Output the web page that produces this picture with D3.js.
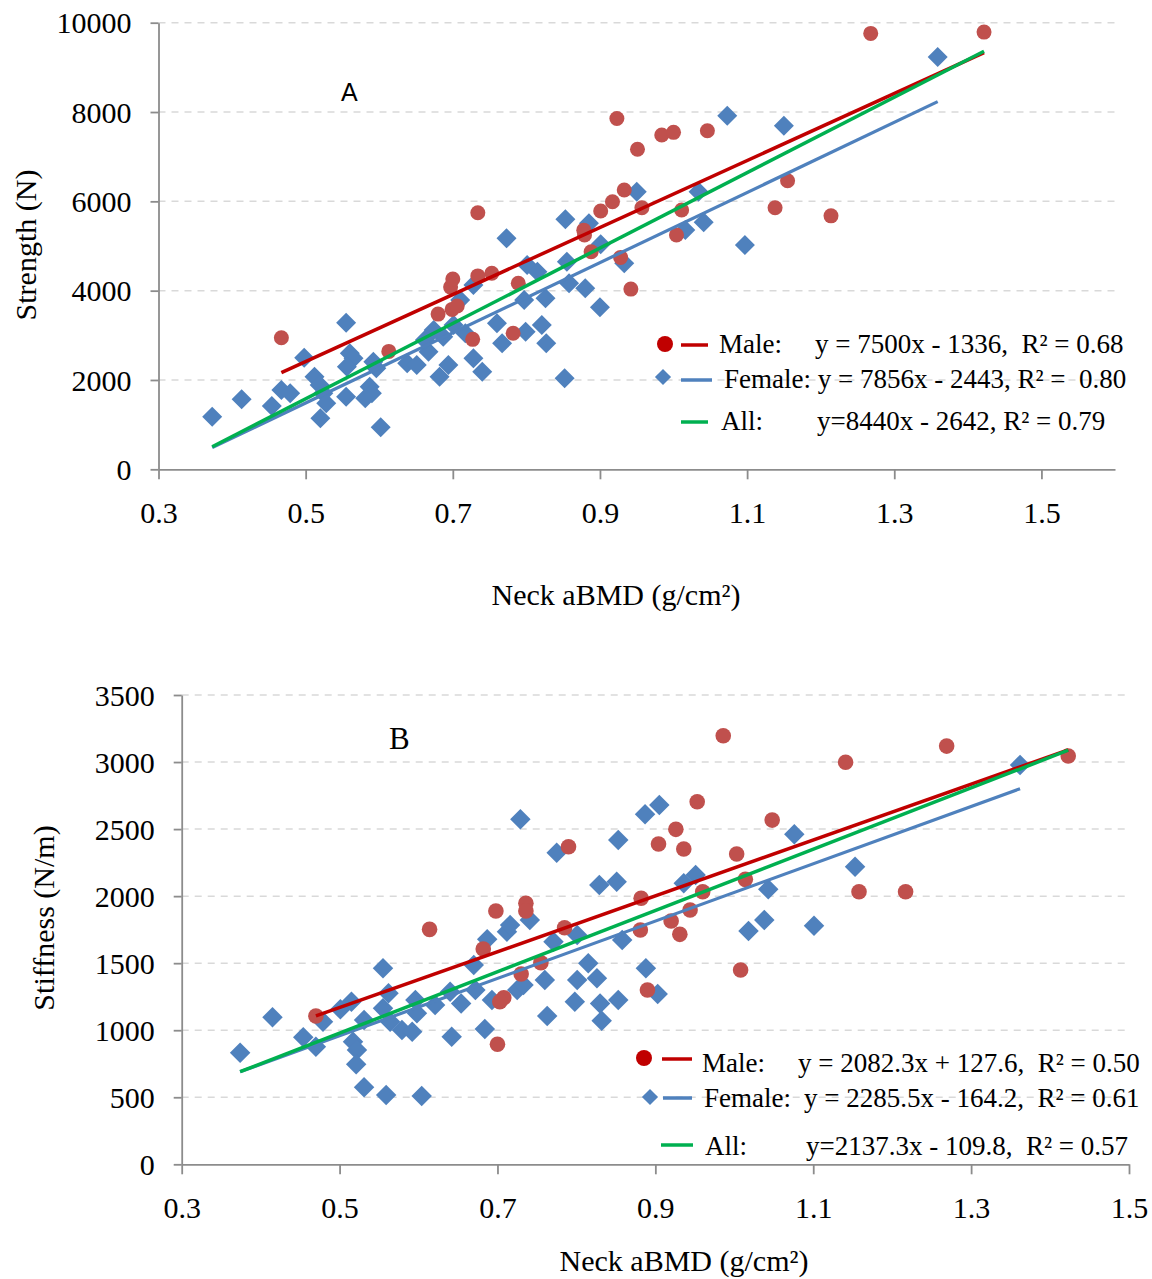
<!DOCTYPE html>
<html>
<head>
<meta charset="utf-8">
<script src="https://cdn.jsdelivr.net/npm/d3@7"></script>
<style>
  html, body { margin: 0; padding: 0; background: #ffffff; }
  svg text { white-space: pre; }
</style>
</head>
<body>
<svg id="chart" width="1152" height="1279"></svg>
<script>
// ---------------- DATA ----------------
// Panel A: Strength (N) vs Neck aBMD
const xTicksA = [0.3, 0.5, 0.7, 0.9, 1.1, 1.3, 1.5];
const yTicksA = [0, 2000, 4000, 6000, 8000, 10000];
const maleStrength = [
  [0.467,2946],[0.613,2640],[0.680,3475],[0.697,4080],[0.700,4260],[0.699,3580],[0.706,3655],
  [0.734,5745],[0.734,4330],[0.753,4390],[0.727,2910],[0.789,4165],[0.782,3045],[0.878,5355],
  [0.879,5245],[0.888,4870],[0.923,7855],[0.951,7165],[0.984,7485],[1.000,7545],[1.046,7580],
  [0.933,6255],[0.917,5990],[0.901,5785],[0.957,5855],[0.928,4745],[0.942,4035],[1.011,5805],
  [1.004,5245],[1.155,6460],[1.138,5855],[1.214,5675],[1.268,9760],[1.422,9790]
];
const femaleStrength = [
  [0.373,1178],[0.413,1567],[0.454,1417],[0.467,1775],[0.479,1701],[0.498,2498],[0.512,2073],
  [0.519,1887],[0.524,1701],[0.528,1477],[0.520,1141],[0.555,3282],[0.560,2597],[0.565,2485],
  [0.556,2297],[0.555,1625],[0.587,1849],[0.590,1701],[0.581,1589],[0.592,2409],[0.596,2261],
  [0.602,940],[0.638,2373],[0.651,2335],[0.667,2633],[0.662,2895],[0.674,3118],[0.682,2073],
  [0.694,2335],[0.687,2969],[0.701,3230],[0.710,3790],[0.728,4126],[0.717,3044],[0.728,2485],
  [0.740,2185],[0.760,3268],[0.767,2820],[0.773,5171],[0.797,3790],[0.801,4573],[0.815,4424],
  [0.826,3828],[0.821,3230],[0.827,2820],[0.852,2037],[0.853,5597],[0.855,4648],[0.858,4164],
  [0.880,4052],[0.799,3080],[0.885,5507],[0.901,5037],[0.900,3627],[0.933,4612],[0.950,6214],
  [1.034,6214],[1.016,5357],[1.041,5529],[1.073,7916],[1.150,7692],[1.097,5021],[1.359,9230]
];
// drawn regression lines: [slope, intercept, xStart, xEnd]
const fitMaleA   = [7500, -1336, 0.467, 1.422];
const fitFemaleA = [7856, -2443, 0.373, 1.359];
const fitAllA    = [8440, -2642, 0.373, 1.422];
const legendLabelsA = ["Male:", "Female: y = 7856x - 2443, R\u00B2 =  0.80", "All:"];
const legendEqA     = ["y = 7500x - 1336,  R\u00B2 = 0.68", "", "y=8440x - 2642, R\u00B2 = 0.79"];

// Panel B: Stiffness (N/m) vs Neck aBMD
const xTicksB = [0.3, 0.5, 0.7, 0.9, 1.1, 1.3, 1.5];
const yTicksB = [0, 500, 1000, 1500, 2000, 2500, 3000, 3500];
const maleStiffness = [
  [0.470,1106],[0.614,1752],[0.698,1889],[0.736,1946],[0.736,1889],[0.790,2368],[0.682,1605],
  [0.785,1764],[0.755,1503],[0.730,1419],[0.708,1242],[0.703,1213],[0.700,895],[0.986,3196],
  [1.269,3119],[1.141,2998],[0.953,2704],[1.048,2567],[0.926,2498],[0.904,2389],[0.936,2351],
  [1.003,2314],[1.014,2125],[0.882,1984],[0.960,2033],[1.158,2033],[1.217,2033],[0.944,1896],
  [0.920,1814],[0.881,1747],[0.931,1715],[1.008,1449],[0.890,1300],[1.423,3045]
];
const femaleStiffness = [
  [0.374,832],[0.415,1096],[0.454,947],[0.470,877],[0.479,1063],[0.501,1156],[0.515,1213],
  [0.517,914],[0.522,852],[0.521,746],[0.531,574],[0.559,517],[0.604,509],[0.531,1076],
  [0.555,1462],[0.562,1275],[0.555,1163],[0.564,1063],[0.579,1001],[0.592,989],[0.596,1225],
  [0.598,1126],[0.621,1188],[0.640,1287],[0.654,1200],[0.642,952],[0.670,1486],[0.672,1300],
  [0.687,1678],[0.684,1009],[0.693,1225],[0.712,1735],[0.716,1784],[0.729,2573],[0.741,1822],
  [0.775,2324],[0.760,1374],[0.763,1106],[0.771,1660],[0.725,1300],[0.733,1337],[0.801,1710],
  [0.815,1499],[0.826,1387],[0.801,1374],[0.798,1213],[0.830,1200],[0.832,1071],[0.829,2083],
  [0.851,2107],[0.853,2418],[0.853,1225],[0.887,2610],[0.905,2680],[0.936,2096],[0.951,2157],
  [1.076,2461],[1.043,2051],[1.153,2219],[1.018,1740],[1.038,1822],[1.101,1779],[0.858,1673],
  [0.888,1462],[0.903,1270],[1.362,2978]
];
// lines as drawn in the figure (blue and green appear with each other's slopes)
const fitMaleB   = [2082.3, 127.6, 0.470, 1.423];
const fitFemaleB = [2137.3, -109.8, 0.374, 1.362];
const fitAllB    = [2285.5, -164.2, 0.374, 1.423];
const legendLabelsB = ["Male:", "Female:", "All:"];
const legendEqB     = ["y = 2082.3x + 127.6,  R\u00B2 = 0.50", "y = 2285.5x - 164.2,  R\u00B2 = 0.61", "y=2137.3x - 109.8,  R\u00B2 = 0.57"];

// ---------------- STYLE ----------------
const SERIF = "'Liberation Serif', 'Times New Roman', serif";
const SANS = "'Liberation Sans', Arial, sans-serif";
const C_MALE_PT = "#C0504D", C_FEMALE_PT = "#4F81BD";
const C_MALE_LN = "#C00000", C_FEMALE_LN = "#4F81BD", C_ALL_LN = "#00B050";
const AXIS_C = "#8c8c8c", GRID_C = "#d9d9d9";

const svg = d3.select("#chart");

function drawPanel(p) {
  const x = d3.scaleLinear().domain(p.xDomain).range([p.left, p.right]);
  const y = d3.scaleLinear().domain(p.yDomain).range([p.bottom, p.top]);
  const g = svg.append("g");

  // grid
  g.append("g").selectAll("line").data(p.yTicks.filter(v => v > 0)).join("line")
    .attr("x1", p.left).attr("x2", p.right)
    .attr("y1", d => y(d)).attr("y2", d => y(d))
    .attr("stroke", GRID_C).attr("stroke-width", 1.5).attr("stroke-dasharray", "7,6");

  // y axis
  const ya = g.append("g").attr("transform", `translate(${p.left},0)`)
    .call(d3.axisLeft(y).tickValues(p.yTicks).tickSize(8).tickSizeOuter(0).tickPadding(19).tickFormat(d3.format("d")));
  ya.select(".domain").attr("stroke", AXIS_C).attr("stroke-width", 1.8);
  ya.selectAll(".tick line").attr("stroke", AXIS_C).attr("stroke-width", 1.8);
  ya.selectAll(".tick text").attr("font-family", SERIF).attr("font-size", p.tickFont).attr("fill", "#000").attr("dy", "0.34em");

  // x axis
  const xa = g.append("g").attr("transform", `translate(0,${p.bottom})`)
    .call(d3.axisBottom(x).tickValues(p.xTicks).tickSize(10).tickSizeOuter(0).tickPadding(22).tickFormat(d3.format(".1f")));
  xa.select(".domain").attr("stroke", AXIS_C).attr("stroke-width", 1.8);
  xa.selectAll(".tick line").attr("stroke", AXIS_C).attr("stroke-width", 1.8);
  xa.selectAll(".tick text").attr("font-family", SERIF).attr("font-size", p.tickFont).attr("fill", "#000");

  // points: female diamonds
  const diamond = d3.symbol().type(d3.symbolSquare).size(p.diamondSize);
  g.append("g").selectAll("path").data(p.females).join("path")
    .attr("d", diamond)
    .attr("transform", d => `translate(${x(d[0])},${y(d[1])}) rotate(45)`)
    .attr("fill", C_FEMALE_PT);
  // male circles
  g.append("g").selectAll("circle").data(p.males).join("circle")
    .attr("cx", d => x(d[0])).attr("cy", d => y(d[1])).attr("r", p.circleR)
    .attr("fill", C_MALE_PT);

  // trend lines
  const fits = [[p.fitMale, C_MALE_LN, 3.5], [p.fitFemale, C_FEMALE_LN, 3.2], [p.fitAll, C_ALL_LN, 3.5]];
  fits.forEach(([f, c, w]) => {
    g.append("line")
      .attr("x1", x(f[2])).attr("y1", y(f[0] * f[2] + f[1]))
      .attr("x2", x(f[3])).attr("y2", y(f[0] * f[3] + f[1]))
      .attr("stroke", c).attr("stroke-width", w);
  });

  // axis titles
  g.append("text").attr("x", p.xTitle[0]).attr("y", p.xTitle[1]).attr("text-anchor", "middle")
    .attr("font-family", SERIF).attr("font-size", p.titleFont).text("Neck aBMD (g/cm\u00B2)");
  g.append("text").attr("transform", `translate(${p.yTitle[0]},${p.yTitle[1]}) rotate(-90)`)
    .attr("text-anchor", "middle").attr("font-family", SERIF).attr("font-size", p.titleFont).text(p.yTitleText);

  // panel letter
  g.append("text").attr("x", p.letter[0]).attr("y", p.letter[1])
    .attr("font-family", p.letterFamily).attr("font-size", p.letterFont).text(p.letterText);

  // legend
  const L = p.legend;
  g.append("circle").attr("cx", L.marker[0][0]).attr("cy", L.marker[0][1]).attr("r", 8).attr("fill", C_MALE_LN);
  g.append("path").attr("d", d3.symbol().type(d3.symbolSquare).size(130))
    .attr("transform", `translate(${L.marker[1][0]},${L.marker[1][1]}) rotate(45)`).attr("fill", C_FEMALE_PT);
  const lc = [C_MALE_LN, C_FEMALE_LN, C_ALL_LN];
  L.lines.forEach((ln, i) => {
    g.append("line").attr("x1", ln[0]).attr("x2", ln[1]).attr("y1", ln[2]).attr("y2", ln[2])
      .attr("stroke", lc[i]).attr("stroke-width", 3.5);
  });
  p.legendLabels.forEach((t, i) => {
    g.append("text").attr("x", L.labelX[i]).attr("y", L.baseY[i])
      .attr("font-family", SERIF).attr("font-size", 27).text(t);
    if (p.legendEq[i]) {
      g.append("text").attr("x", L.eqX[i]).attr("y", L.baseY[i])
        .attr("font-family", SERIF).attr("font-size", 27).text(p.legendEq[i]);
    }
  });
}

drawPanel({
  xDomain: [0.3, 1.6], yDomain: [0, 10000],
  left: 158.5, right: 1115, top: 22.7, bottom: 469.3,
  xTicks: xTicksA, yTicks: yTicksA,
  males: maleStrength, females: femaleStrength,
  fitMale: fitMaleA, fitFemale: fitFemaleA, fitAll: fitAllA,
  tickFont: 30, titleFont: 30, circleR: 7.5, diamondSize: 200,
  xTitle: [616, 605], yTitle: [36, 245], yTitleText: "Strength (N)",
  letter: [341, 101], letterFamily: SANS, letterFont: 25, letterText: "A",
  legendLabels: legendLabelsA, legendEq: legendEqA,
  legend: {
    marker: [[665, 344], [663, 377]],
    lines: [[681, 708, 345], [681, 712, 380], [681, 708, 422]],
    labelX: [719, 724, 721], eqX: [815, 0, 817], baseY: [353, 388, 430]
  }
});

drawPanel({
  xDomain: [0.3, 1.5], yDomain: [0, 3500],
  left: 181.7, right: 1129, top: 695, bottom: 1164.3,
  xTicks: xTicksB, yTicks: yTicksB,
  males: maleStiffness, females: femaleStiffness,
  fitMale: fitMaleB, fitFemale: fitFemaleB, fitAll: fitAllB,
  tickFont: 30, titleFont: 30, circleR: 7.8, diamondSize: 210,
  xTitle: [684, 1271], yTitle: [54, 918], yTitleText: "Stiffness (N/m)",
  letter: [389, 749], letterFamily: SERIF, letterFont: 31, letterText: "B",
  legendLabels: legendLabelsB, legendEq: legendEqB,
  legend: {
    marker: [[644, 1058], [650, 1097]],
    lines: [[662, 692, 1059], [663, 692, 1098], [661, 693, 1145]],
    labelX: [702, 704, 705], eqX: [798, 804, 806], baseY: [1072, 1107, 1155]
  }
});
</script>
</body>
</html>
